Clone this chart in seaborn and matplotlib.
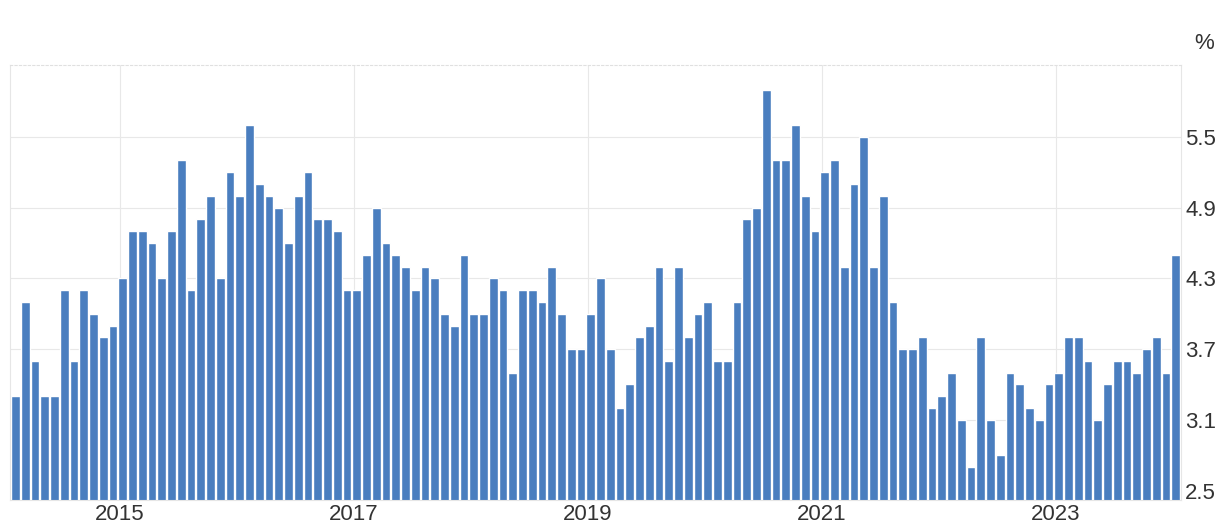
import pandas as pd
import numpy as np
import seaborn as sb
from matplotlib import pyplot as plt

# monthly values, Feb 2014 .. Jan 2024
months = pd.date_range("2014-02-01", "2024-01-01", freq="MS")
rate = [3.3, 4.1, 3.6, 3.3, 3.3, 4.2, 3.6, 4.2, 4.0, 3.8, 3.9,
        4.3, 4.7, 4.7, 4.6, 4.3, 4.7, 5.3, 4.2, 4.8, 5.0, 4.3, 5.2, 5.0,
        5.6, 5.1, 5.0, 4.9, 4.6, 5.0, 5.2, 4.8, 4.8, 4.7, 4.2, 4.2,
        4.5, 4.9, 4.6, 4.5, 4.4, 4.2, 4.4, 4.3, 4.0, 3.9, 4.5, 4.0,
        4.0, 4.3, 4.2, 3.5, 4.2, 4.2, 4.1, 4.4, 4.0, 3.7, 3.7, 4.0,
        4.3, 3.7, 3.2, 3.4, 3.8, 3.9, 4.4, 3.6, 4.4, 3.8, 4.0, 4.1,
        3.6, 3.6, 4.1, 4.8, 4.9, 5.9, 5.3, 5.3, 5.6, 5.0, 4.7, 5.2,
        5.3, 4.4, 5.1, 5.5, 4.4, 5.0, 4.1, 3.7, 3.7, 3.8, 3.2, 3.3,
        3.5, 3.1, 2.7, 3.8, 3.1, 2.8, 3.5, 3.4, 3.2, 3.1, 3.4, 3.5,
        3.8, 3.8, 3.6, 3.1, 3.4, 3.6, 3.6, 3.5, 3.7, 3.8, 3.5, 4.5]
year_labels = ["2015", "2017", "2019", "2021", "2023"]
y_ticks = [2.5, 3.1, 3.7, 4.3, 4.9, 5.5]

df = pd.DataFrame({"month": months.strftime("%Y-%m"), "rate": rate})

sb.set_style("white")
plt.rcParams["font.family"] = ["Liberation Sans", "DejaVu Sans"]
fig = plt.figure(figsize=(12.23, 5.27), dpi=100)
ax = fig.add_axes([0.0082, 0.0512, 0.9575, 0.8255])

sb.barplot(x="month", y="rate", data=df, color="#4a7ebf", saturation=1,
           width=0.9, ax=ax)
ax.set_ylim(2.42, 6.11)
ax.set_xlim(-0.55, len(df) - 0.45)

# year ticks sit at the start of each january
jan_pos = [list(df["month"]).index(y + "-01") - 0.3 for y in year_labels]
ax.set_xticks(jan_pos)
ax.set_xticklabels(year_labels, fontsize=16, color="#333333")
ax.set_yticks(y_ticks)
ax.set_yticklabels([str(v) for v in y_ticks], fontsize=16, color="#333333")
ax.yaxis.tick_right()
ax.tick_params(axis="both", length=0)
ax.tick_params(axis="y", pad=3)
ax.tick_params(axis="x", pad=3)
ax.set_xlabel("")
ax.set_ylabel("")

ax.set_axisbelow(True)
ax.grid(True, color="#e8e8e8", linewidth=0.8)
for s in ["left", "right", "bottom"]:
    ax.spines[s].set_color("#e6e6e6")
ax.spines["top"].set_color("#e0e0e0")
ax.spines["top"].set_linestyle((0, (2, 2)))

fig.text(0.9845, 0.918, "%", fontsize=16, color="#333333", ha="center", va="center")

plt.savefig("out.png", dpi=100)
